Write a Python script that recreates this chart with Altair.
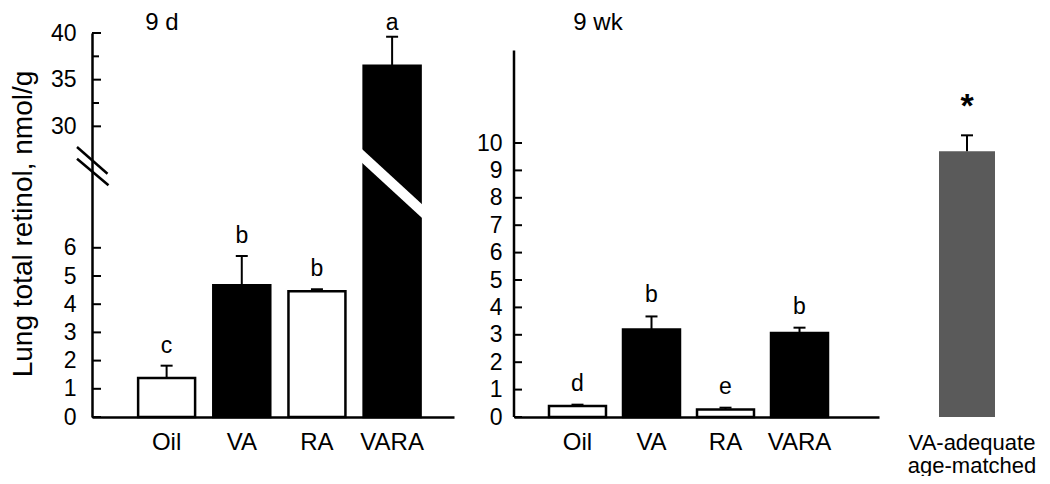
import altair as alt
import pandas as pd

FONT = "Liberation Sans"

# ---------------- data ----------------
cats = ["Oil", "VA", "RA", "VARA"]
fills = ["white", "black", "white", "black"]

d9_mean = [1.38, 4.67, 4.46, 36.5]
d9_se = [0.44, 1.04, 0.07, 3.1]
d9_letters = ["c", "b", "b", "a"]

wk9_mean = [0.40, 3.19, 0.27, 3.07]
wk9_se = [0.05, 0.48, 0.07, 0.19]
wk9_letters = ["d", "b", "e", "b"]

ref_cat = ["VA-adequate|age-matched"]
ref_mean = [9.7]
ref_se = [0.58]
ref_mark = ["*"]

d9_ticks_major = [0, 1, 2, 3, 4, 5, 6, 30, 35, 40]
d9_ticks_minor = [32.5, 37.5]
wk9_ticks = [0, 1, 2, 3, 4, 5, 6, 7, 8, 9, 10]

H = 384
one = pd.DataFrame({"k": [0]})

xaxis = alt.Axis(title=None, ticks=False, tickSize=0, labelPadding=13,
                 labelFontSize=24, labelAngle=0, domainWidth=2.5)

# ---------------- left panel: 9 d (broken axis) ----------------
df9 = pd.DataFrame({"cat": cats, "mean": d9_mean, "se": d9_se,
                    "letter": d9_letters, "fill": fills})
df9["top"] = df9["mean"] + df9["se"]

yL = alt.Scale(domain=[0, 8, 28, 40], range=[H, H - 8 * 28.2, 112.0, 0],
               zero=False, nice=False)
xL = alt.Scale(domain=cats, paddingInner=0.242, paddingOuter=0.529, align=0.58)
axL = alt.Axis(values=d9_ticks_major, ticks=False, tickSize=0,
               labelPadding=16, labelFontSize=23, domainWidth=2.5,
               title="Lung total retinol, nmol/g", titleX=-69,
               titleY=190.5, titleAngle=270, titleAlign="center",
               titleBaseline="middle", titleFontSize=28,
               titleFontWeight="normal")


def XL():
    return alt.X("cat:N", scale=xL, sort=cats, axis=xaxis)


def YL(f):
    return alt.Y(f, scale=yL, axis=axL)


b9 = alt.Chart(df9)
bars9 = b9.mark_bar(stroke="black", strokeWidth=2.5).encode(
    x=XL(), y=YL("mean:Q"), y2=alt.Y2Datum(0),
    fill=alt.Fill("fill:N", scale=None),
)
err9 = b9.mark_rule(color="black", strokeWidth=2).encode(
    x=XL(), y=YL("mean:Q"), y2="top:Q")
cap9 = b9.mark_tick(color="black", size=12, thickness=2, opacity=1).encode(
    x=XL(), y=YL("top:Q"))
let9 = b9.transform_filter(alt.datum.cat != "VARA").mark_text(
    baseline="alphabetic", dy=-13, fontSize=23).encode(
    x=XL(), y=YL("top:Q"), text="letter:N")
let9a = b9.transform_filter(alt.datum.cat == "VARA").mark_text(
    baseline="alphabetic", dy=-7, fontSize=23).encode(
    x=XL(), y=YL("top:Q"), text="letter:N")
tk9 = alt.Chart(pd.DataFrame({"v": d9_ticks_major})).mark_tick(
    color="black", size=9, thickness=2, opacity=1).encode(
    x=alt.value(4.5), y=YL("v:Q"))
tk9m = alt.Chart(pd.DataFrame({"v": d9_ticks_minor})).mark_tick(
    color="black", size=7, thickness=2, opacity=1).encode(
    x=alt.value(3.5), y=YL("v:Q"))
stripe = alt.Chart(one).mark_rule(color="white", strokeWidth=10, strokeCap="butt").encode(
    x=alt.value(266), x2=alt.value(334), y=alt.value(119.2), y2=alt.value(181.7))
brk1 = alt.Chart(one).mark_rule(color="black", strokeWidth=2.5).encode(
    x=alt.value(-15), x2=alt.value(15.5), y=alt.value(114), y2=alt.value(140.7))
brk2 = alt.Chart(one).mark_rule(color="black", strokeWidth=2.5).encode(
    x=alt.value(-15), x2=alt.value(16.5), y=alt.value(125.7), y2=alt.value(152.3))
title9 = alt.Chart(one).mark_text(fontSize=24).encode(
    x=alt.value(70), y=alt.value(-10), text=alt.value("9 d"))

left = alt.layer(bars9, stripe, err9, cap9, let9, let9a, tk9, tk9m, brk1, brk2,
                 title9).properties(width=362, height=H)

# ---------------- right panel: 9 wk ----------------
dfw = pd.DataFrame({"cat": cats, "mean": wk9_mean, "se": wk9_se,
                    "letter": wk9_letters, "fill": fills})
dfw["top"] = dfw["mean"] + dfw["se"]

yR = alt.Scale(domain=[0, H / 27.4], zero=False, nice=False)
xR = alt.Scale(domain=cats, paddingInner=0.23, paddingOuter=0.581, align=0.407)
axR = alt.Axis(values=wk9_ticks, ticks=False, tickSize=0, domain=False,
               labelPadding=12, labelFontSize=23, title=None)


def XR():
    return alt.X("cat:N", scale=xR, sort=cats, axis=xaxis)


def YR(f):
    return alt.Y(f, scale=yR, axis=axR)


bw = alt.Chart(dfw)
barsw = bw.mark_bar(stroke="black", strokeWidth=2.5).encode(
    x=XR(), y=YR("mean:Q"), y2=alt.Y2Datum(0),
    fill=alt.Fill("fill:N", scale=None),
)
errw = bw.mark_rule(color="black", strokeWidth=2).encode(
    x=XR(), y=YR("mean:Q"), y2="top:Q")
capw = bw.mark_tick(color="black", size=12, thickness=2, opacity=1).encode(
    x=XR(), y=YR("top:Q"))
letw = bw.mark_text(baseline="alphabetic", dy=-14, fontSize=23).encode(
    x=XR(), y=YR("top:Q"), text="letter:N")
tkw = alt.Chart(pd.DataFrame({"v": wk9_ticks})).mark_tick(
    color="black", size=8, thickness=2, opacity=1).encode(
    x=alt.value(4), y=YR("v:Q"))
axw = alt.Chart(one).mark_rule(color="black", strokeWidth=2.5).encode(
    x=alt.value(0), y=alt.YDatum(0, scale=yR, axis=axR), y2=alt.Y2Datum(13.38))
titlew = alt.Chart(one).mark_text(fontSize=24).encode(
    x=alt.value(84), y=alt.value(-10), text=alt.value("9 wk"))

right = alt.layer(barsw, errw, capw, letw, tkw, axw, titlew
                  ).properties(width=365, height=H)

# ---------------- reference bar ----------------
dfr = pd.DataFrame({"cat": ref_cat, "mean": ref_mean, "se": ref_se, "mark": ref_mark})
dfr["top"] = dfr["mean"] + dfr["se"]
xG = alt.Scale(domain=ref_cat, paddingInner=0, paddingOuter=0)
axG = alt.Axis(title=None, ticks=False, tickSize=0, domain=False,
               labelPadding=15, labelFontSize=22, labelAngle=0,
               labelLineHeight=23, labelOffset=5,
               labelExpr="split(datum.label, '|')")
br = alt.Chart(dfr)
barr = br.mark_bar(color="#5a5a5a").encode(
    x=alt.X("cat:N", scale=xG, axis=axG),
    y=alt.Y("mean:Q", scale=yR, axis=None),
    y2=alt.Y2Datum(0),
)
errr = br.mark_rule(color="black", strokeWidth=2).encode(
    x=alt.X("cat:N", scale=xG, axis=axG), y=alt.Y("mean:Q", scale=yR, axis=None), y2="top:Q")
capr = br.mark_tick(color="black", size=12, thickness=2, opacity=1).encode(
    x=alt.X("cat:N", scale=xG, axis=axG), y=alt.Y("top:Q", scale=yR, axis=None))
star = br.mark_text(baseline="alphabetic", dy=-18, fontSize=34, fontWeight="bold").encode(
    x=alt.X("cat:N", scale=xG, axis=axG), y=alt.Y("top:Q", scale=yR, axis=None),
    text="mark:N")

refc = alt.layer(barr, errr, capr, star).properties(width=56, height=H)

chart = alt.hconcat(left, right, refc, spacing=60, bounds="flush").properties(
    padding={"left": 0, "top": 3, "right": 0, "bottom": 0}
).configure_view(stroke=None).configure_axis(
    labelFont=FONT, titleFont=FONT, labelColor="black", titleColor="black",
    domainColor="black", grid=False
).configure_text(font=FONT, color="black")

chart.save("out.html", embed_options={"renderer": "svg", "actions": False})
